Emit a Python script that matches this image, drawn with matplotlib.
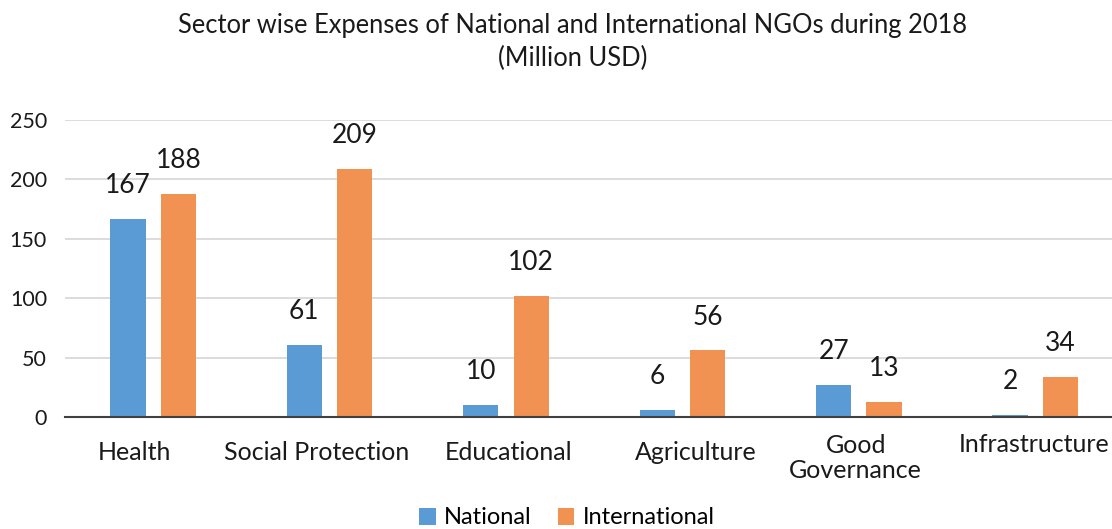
import matplotlib
matplotlib.use("Agg")
import matplotlib.pyplot as plt
import matplotlib.transforms as mtransforms
import numpy as np

categories = ["Health", "Social Protection", "Educational", "Agriculture", "Good\nGovernance", "Infrastructure"]
national = [167, 61, 10, 6, 27, 2]
international = [188, 209, 102, 56, 13, 34]
yticks = [0, 50, 100, 150, 200, 250]

plt.rcParams['font.family'] = ['Lato', 'DejaVu Sans']

W, H = 1112, 529
fig = plt.figure(figsize=(W / 100, H / 100), dpi=100)
ax = fig.add_axes([65 / W, 112 / H, 6 * 176.4 / W, 297 / H])

x = np.arange(len(categories))
bw = 0.2
off = 0.143
blue = '#5B9BD5'
orange = '#F19152'
txt = '#1a1a1a'
b1 = ax.bar(x - off, national, bw, color=blue, label='National', zorder=3)
b2 = ax.bar(x + off, international, bw, color=orange, label='International', zorder=3)

for bars, vals in ((b1, national), (b2, international)):
    for rect, v in zip(bars, vals):
        ax.annotate(str(v), (rect.get_x() + rect.get_width() / 2, v),
                    xytext=(0, 24), textcoords='offset points',
                    ha='center', va='center', fontsize=19, color=txt)

ax.set_xlim(-0.5, len(categories) - 0.5)
ax.set_ylim(0, 250)
ax.set_yticks(yticks)
ax.set_yticklabels([str(t) for t in yticks], fontsize=15.5, color=txt)
ax.yaxis.grid(True, color='#D9D9D9', linewidth=1.3, zorder=0)
ax.set_axisbelow(True)
ax.tick_params(axis='y', length=0, pad=13)
ax.tick_params(axis='x', length=0)
ax.set_xticks(x)
ax.set_xticklabels([])

# pixel nudges of category labels (layout only)
label_dx = [-19, -13, 3, 13, -3, -1]
for i, c in enumerate(categories):
    dy = 452
    if '\n' in c:
        dy = 458
    elif c == 'Infrastructure':
        dy = 445
    ax.text(i, 0, c, ha='center', va='center', fontsize=18, color=txt,
            linespacing=1.15,
            transform=mtransforms.blended_transform_factory(ax.transData, ax.transData) +
            mtransforms.ScaledTranslation(label_dx[i] / 100, -(dy - 417) / 100, fig.dpi_scale_trans))

for s in ['top', 'right', 'left']:
    ax.spines[s].set_visible(False)
ax.spines['bottom'].set_color('#404040')
ax.spines['bottom'].set_linewidth(1.5)
ax.spines['bottom'].set_zorder(4)

fig.text(573 / W, 1 - 25 / H, "Sector wise Expenses of National and International NGOs during 2018",
         ha='center', va='center', fontsize=18.4, color=txt)
fig.text(573 / W, 1 - 58 / H, "(Million USD)", ha='center', va='center', fontsize=18.4, color=txt)

fig.legend(handles=[b1, b2], labels=['National', 'International'], loc='center',
           bbox_to_anchor=(567 / W, 1 - 518 / H), ncol=2, frameon=False, fontsize=17,
           handlelength=0.7, handleheight=0.7, handletextpad=0.35, columnspacing=1.1)

fig.savefig('out.png', dpi=100)
